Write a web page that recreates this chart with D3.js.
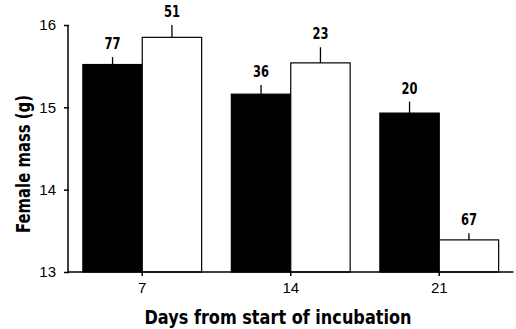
<!DOCTYPE html>
<html>
<head>
<meta charset="utf-8">
<script src="https://cdn.jsdelivr.net/npm/d3@7"></script>
<style>
  body { margin: 0; background: #fff; }
  .title { font-family: "DejaVu Sans Condensed", "Liberation Sans Narrow", sans-serif; font-weight: bold; font-stretch: condensed; }
</style>
</head>
<body>
<div id="chart"></div>
<script>
// data
const days = ["7", "14", "21"];
const blackMass = [15.52, 15.16, 14.93];
const blackErr = [15.61, 15.27, 15.07];
const whiteMass = [15.85, 15.54, 13.39];
const whiteErr = [16.0, 15.73, 13.47];
const blackN = [77, 36, 20];
const whiteN = [51, 23, 67];
const yTicks = [13, 14, 15, 16];

const width = 516, height = 329;
const plotLeft = 68, plotRight = 513.5, plotTop = 25, plotBottom = 272;

const rows = days.map((d, i) => [
  { day: d, key: "b", v: blackMass[i], e: blackErr[i], n: blackN[i] },
  { day: d, key: "w", v: whiteMass[i], e: whiteErr[i], n: whiteN[i] }
]).flat();

const x = d3.scaleBand().domain(days).range([plotLeft, plotRight]).paddingInner(0);
const barW = x.bandwidth() * 0.4;
const xc = d => x(d) + x.bandwidth() / 2;
const xBar = d => d.key === "b" ? xc(d.day) - barW : xc(d.day);

const y = d3.scaleLinear().domain([13, 16]).range([plotBottom, plotTop]);

const svg = d3.select("#chart").append("svg")
  .attr("width", width)
  .attr("height", height);

// bars
svg.append("g")
  .selectAll("rect")
  .data(rows)
  .join("rect")
  .attr("x", d => xBar(d))
  .attr("y", d => y(d.v))
  .attr("width", barW)
  .attr("height", d => y(13) - y(d.v))
  .attr("fill", d => d.key === "b" ? "#000" : "#fff")
  .attr("stroke", "#000")
  .attr("stroke-width", 1.2);

// error bars (upper only)
svg.append("g")
  .selectAll("line")
  .data(rows)
  .join("line")
  .attr("x1", d => xBar(d) + barW / 2)
  .attr("x2", d => xBar(d) + barW / 2)
  .attr("y1", d => y(d.v))
  .attr("y2", d => y(d.e))
  .attr("stroke", "#000")
  .attr("stroke-width", 1.3);

// sample sizes
svg.append("g")
  .selectAll("text")
  .data(rows)
  .join("text")
  .attr("class", "title")
  .attr("transform", d => "translate(" + (xBar(d) + barW / 2) + "," + (y(d.e) - 8) + ") scale(0.85,1)")
  .attr("text-anchor", "middle")
  .style("font-size", "15px")
  .text(d => d.n);

// y axis
const yAxis = svg.append("g")
  .attr("transform", "translate(" + plotLeft + ",0)")
  .call(d3.axisLeft(y).tickValues(yTicks).tickSize(4).tickPadding(8).tickFormat(d3.format("d")));
yAxis.select(".domain").attr("stroke-width", 1.5).attr("d", "M0," + y(16) + "V" + y(13));
yAxis.selectAll(".tick line").attr("stroke-width", 1.5).attr("x2", -4).attr("x1", 1);
yAxis.selectAll("text").style("font-family", "Liberation Sans, Arial, sans-serif").style("font-size", "15px").attr("fill", "#000");

// x axis
const xAxis = svg.append("g")
  .attr("transform", "translate(0," + plotBottom + ")")
  .call(d3.axisBottom(x).tickSize(4).tickPadding(6));
xAxis.select(".domain").attr("stroke-width", 1.5).attr("d", "M" + plotLeft + ",0H" + plotRight);
xAxis.selectAll(".tick line").attr("stroke-width", 1.5);
xAxis.selectAll("text").style("font-family", "Liberation Sans, Arial, sans-serif").style("font-size", "15px").attr("fill", "#000");

// axis titles
svg.append("text")
  .attr("class", "title")
  .attr("transform", "translate(30,164) rotate(-90)")
  .attr("text-anchor", "middle")
  .attr("textLength", 138)
  .attr("lengthAdjust", "spacingAndGlyphs")
  .style("font-size", "20px")
  .text("Female mass (g)");

svg.append("text")
  .attr("class", "title")
  .attr("x", 278)
  .attr("y", 324)
  .attr("text-anchor", "middle")
  .attr("textLength", 267)
  .attr("lengthAdjust", "spacingAndGlyphs")
  .style("font-size", "20px")
  .text("Days from start of incubation");
</script>
</body>
</html>
